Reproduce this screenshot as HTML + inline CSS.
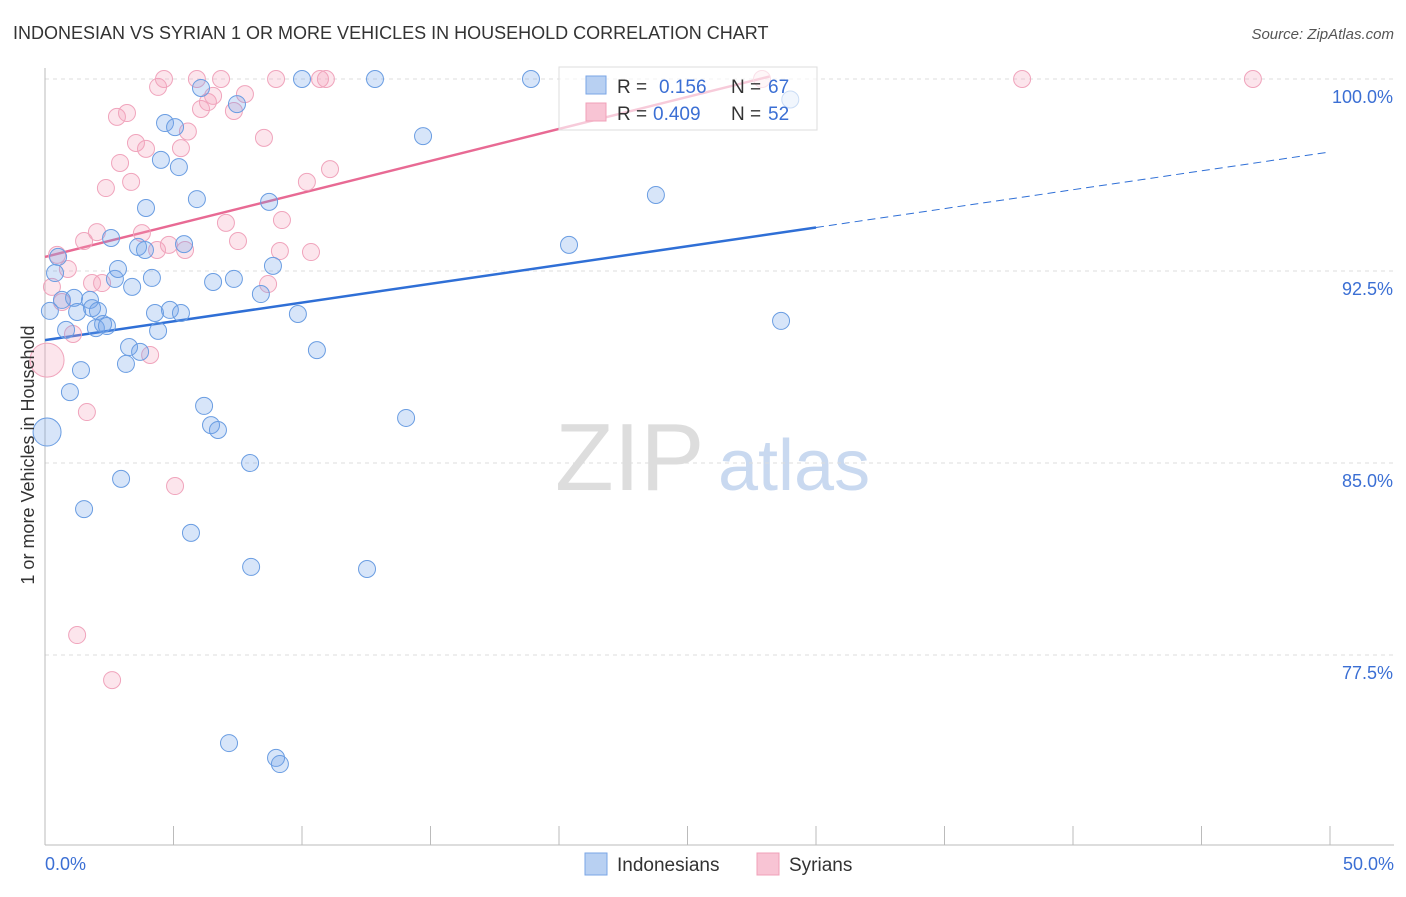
<!DOCTYPE html>
<html><head><meta charset="utf-8"><style>
body{margin:0;background:#fff;font-family:"Liberation Sans",sans-serif}
svg text{font-family:"Liberation Sans",sans-serif}
</style></head><body>
<svg id="chart" width="1406" height="892">
<text x="13" y="39" font-size="18" fill="#333">INDONESIAN VS SYRIAN 1 OR MORE VEHICLES IN HOUSEHOLD CORRELATION CHART</text>
<text x="1394" y="39" font-size="15" fill="#555" text-anchor="end" font-style="italic">Source: ZipAtlas.com</text>
<g>
<text x="555" y="490" font-size="96" fill="#ddd" font-family="Liberation Serif,serif">ZIP</text>
<text x="718" y="490" font-size="72" fill="#c9d9f0">atlas</text>
</g>
<g id="grid"></g><g id="axes"></g><g id="lines"></g><g id="pts"></g>
<text transform="translate(34,455) rotate(-90)" font-size="18" fill="#333" text-anchor="middle">1 or more Vehicles in Household</text>
<g>
<rect x="559" y="67" width="258" height="63" fill="rgba(255,255,255,0.65)" stroke="#ddd"/>
<rect x="586" y="76" width="20" height="18" fill="#b8d0f2" stroke="#7aa6e6"/>
<rect x="586" y="103" width="20" height="18" fill="#f8c4d4" stroke="#f0a0b8"/>
<text x="617" y="93" font-size="19" fill="#333">R = </text><text x="659" y="93" font-size="19" fill="#3b6fd4">0.156</text>
<text x="731" y="93" font-size="19" fill="#333">N = </text><text x="768" y="93" font-size="19" fill="#3b6fd4">67</text>
<text x="617" y="120" font-size="19" fill="#333">R = </text><text x="653" y="120" font-size="19" fill="#3b6fd4">0.409</text>
<text x="731" y="120" font-size="19" fill="#333">N = </text><text x="768" y="120" font-size="19" fill="#3b6fd4">52</text>
</g>
<g>
<rect x="585" y="853" width="22" height="22" fill="#b8d0f2" stroke="#7aa6e6"/>
<text x="617" y="871" font-size="19" fill="#333">Indonesians</text>
<rect x="757" y="853" width="22" height="22" fill="#f8c4d4" stroke="#f0a0b8"/>
<text x="789" y="871" font-size="19" fill="#333">Syrians</text>
</g>
</svg>
<script>
const yTicks=[100,92.5,85,77.5];
const yTickLabels=["100.0%","92.5%","85.0%","77.5%"];
const xTicks=[0,5,10,15,20,25,30,35,40,45,50];
const blueX=[0.19,0.08,0.39,0.51,0.66,0.82,0.97,1.13,1.25,1.4,1.52,1.75,1.83,1.98,2.06,2.26,2.41,2.57,2.72,2.84,2.96,3.15,3.27,3.39,3.62,3.7,3.89,3.93,4.16,4.28,4.4,4.51,4.67,4.86,5.06,5.21,5.29,5.41,5.68,5.91,6.07,6.19,6.46,6.54,6.73,7.16,7.35,7.47,7.98,8.02,8.4,8.72,8.87,8.99,9.14,9.84,10.0,10.58,12.53,12.84,14.05,14.71,18.91,20.39,23.77,28.64,29.0];
const blueY=[90.94,86.21,92.42,93.05,91.37,90.2,87.77,91.45,90.9,88.63,83.2,91.37,91.05,90.27,90.94,90.43,90.35,93.79,92.19,92.58,84.38,88.87,89.53,91.88,93.44,89.34,93.32,94.96,92.23,90.86,90.16,96.84,98.28,90.98,98.12,96.56,90.86,93.55,82.27,95.31,99.65,87.23,86.48,92.07,86.29,74.06,92.19,99.02,85.0,80.94,91.6,95.2,92.7,73.48,73.24,90.82,100,89.41,80.86,100,86.76,97.77,100,93.52,95.47,90.55,99.2];
const pinkX=[0.08,0.27,0.47,0.66,0.89,1.09,1.25,1.52,1.63,1.83,2.02,2.22,2.37,2.61,2.8,2.92,3.19,3.35,3.54,3.77,3.93,4.09,4.36,4.4,4.63,4.82,5.06,5.29,5.45,5.56,5.91,6.07,6.34,6.54,6.85,7.04,7.35,7.51,7.78,8.52,8.68,8.99,9.14,9.22,10.19,10.35,10.7,10.93,11.09,27.9,38.02,47.0];
const pinkY=[89.02,91.88,93.13,91.29,92.58,90.04,78.28,93.67,86.99,92.03,94.02,92.03,95.74,76.52,98.52,96.72,98.67,95.98,97.5,93.98,97.27,89.22,93.32,99.69,100,93.52,84.1,97.3,93.32,97.95,100,98.83,99.1,99.34,100,94.38,98.75,93.67,99.41,97.7,91.99,100,93.28,94.49,95.98,93.24,100,100,96.48,100,100,100];
const blueBigIdx=[1];const pinkBigIdx=[0];
const blueTrend=[[0,89.8],[30,94.2],[50,97.15]];
const pinkTrend=[[0,93.05],[28.2,100.1]];
const X=v=>45+v*25.7, Y=v=>79+(100-v)*25.6;
const NS="http://www.w3.org/2000/svg";
function mk(p,t,a){const e=document.createElementNS(NS,t);for(const k in a)e.setAttribute(k,a[k]);document.getElementById(p).appendChild(e);return e;}
yTicks.forEach((v,i)=>{
 const l=mk('grid','line',{x1:45,x2:1394,y1:Y(v),y2:Y(v),stroke:'#ddd','stroke-dasharray':'4,4'});
 
 
 const t=mk('axes','text',{x:1393,y:Y(v)+24,'font-size':18,fill:'#3b6fd4','text-anchor':'end'});t.textContent=yTickLabels[i];
 
 
});
const ax=mk('axes','line',{x1:45,x2:45,y1:68,y2:845,stroke:'#bbb'});


const bx=mk('axes','line',{x1:45,x2:1394,y1:845,y2:845,stroke:'#bbb'});


xTicks.forEach(v=>{const l=mk('axes','line',{x1:X(v),x2:X(v),y1:826,y2:845,stroke:'#bbb'});
 
 });
[[0,'0.0%','start',45],[50,'50.0%','end',1394]].forEach(d=>{const t=mk('axes','text',{x:d[3],y:870,'font-size':18,fill:'#3b6fd4','text-anchor':d[2]});t.textContent=d[1];
 
 });
const bl=mk('lines','line',{x1:X(blueTrend[0][0]),y1:Y(blueTrend[0][1]),x2:X(blueTrend[1][0]),y2:Y(blueTrend[1][1]),stroke:'#2f6fd6','stroke-width':2.5});


const bd=mk('lines','line',{x1:X(blueTrend[1][0]),y1:Y(blueTrend[1][1]),x2:X(blueTrend[2][0]),y2:Y(blueTrend[2][1]),stroke:'#2f6fd6','stroke-width':1,'stroke-dasharray':'8,5'});


const pl=mk('lines','line',{x1:X(pinkTrend[0][0]),y1:Y(pinkTrend[0][1]),x2:X(pinkTrend[1][0]),y2:Y(pinkTrend[1][1]),stroke:'#e86a94','stroke-width':2.5});


pinkX.forEach((x,i)=>{const c=mk('pts','circle',{cx:X(x),cy:Y(pinkY[i]),r:pinkBigIdx.includes(i)?17:8.5,fill:'rgba(244,160,188,0.28)',stroke:'#f0a4bc','stroke-width':1});
 
 });
blueX.forEach((x,i)=>{const c=mk('pts','circle',{cx:X(x),cy:Y(blueY[i]),r:blueBigIdx.includes(i)?14:8.5,fill:'rgba(110,160,235,0.28)',stroke:'#6a9de2','stroke-width':1});
 
 });
</script>
</body></html>
